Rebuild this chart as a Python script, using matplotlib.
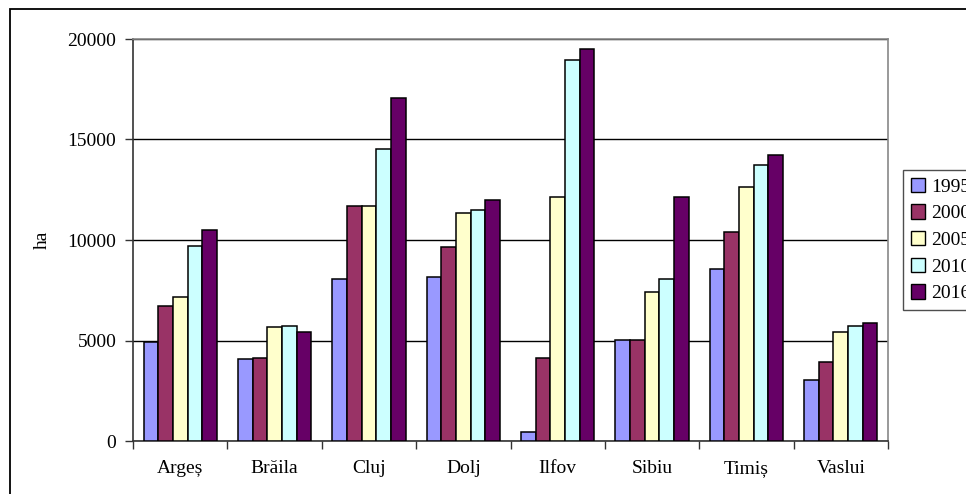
import matplotlib
matplotlib.use("Agg")
import matplotlib.pyplot as plt
from matplotlib.patches import Rectangle, Patch
import numpy as np

plt.rcParams['font.family'] = ['Liberation Serif', 'DejaVu Serif']

counties = ["Argeș", "Brăila", "Cluj", "Dolj", "Ilfov", "Sibiu", "Timiș", "Vaslui"]
years = ["1995", "2000", "2005", "2010", "2016"]

v1995 = [4950, 4080, 8060, 8160, 450, 5020, 8560, 3030]
v2000 = [6700, 4130, 11700, 9650, 4130, 5020, 10400, 3930]
v2005 = [7150, 5670, 11700, 11330, 12120, 7410, 12620, 5420]
v2010 = [9700, 5720, 14530, 11500, 18960, 8060, 13730, 5720]
v2016 = [10500, 5420, 17050, 12000, 19500, 12120, 14210, 5870]
series = [v1995, v2000, v2005, v2010, v2016]

colors = ["#9999FF", "#993366", "#FFFFCC", "#CCFFFF", "#660066"]
yticks = [0, 5000, 10000, 15000, 20000]

W, H = 966, 494
fig = plt.figure(figsize=(W / 100, H / 100), dpi=100)

# outer chart border
fig.patches.append(Rectangle((10 / W, -0.1), 1.2, (H - 9) / H + 0.1,
                             transform=fig.transFigure, fill=False,
                             edgecolor="black", linewidth=1.3))

ax = fig.add_axes([133 / W, (H - 441) / H, (888 - 133) / W, (441 - 39) / H])

n = len(counties)
x = np.arange(n)
bw = 0.155
for i, (vals, c) in enumerate(zip(series, colors)):
    ax.bar(x + (i - 2) * bw, vals, width=bw, color=c, edgecolor="black",
           linewidth=1.1, zorder=3, label=years[i])

ax.set_xlim(-0.5, n - 0.5)
ax.set_ylim(0, 20000)
ax.set_yticks(yticks)
ax.set_yticklabels([str(t) for t in yticks], fontsize=14)
ax.yaxis.grid(True, color="black", linewidth=1.0, zorder=0)

ax.set_xticks(x)
ax.set_xticklabels(counties, fontsize=14)
ax.set_xticks(np.arange(-0.5, n, 1.0), minor=True)
ax.tick_params(axis="x", which="major", length=0, pad=14)
ax.tick_params(axis="x", which="minor", length=6, width=1.0, direction="out", color="#333333")
ax.tick_params(axis="y", length=6, width=1.0, direction="out", pad=6, color="#333333")

for s in ["left", "bottom"]:
    ax.spines[s].set_color("#333333")
    ax.spines[s].set_linewidth(1.2)
for s in ["top", "right"]:
    ax.spines[s].set_color("#888888")
    ax.spines[s].set_linewidth(1.2)

fig.text(42 / W, 1 - 240 / H, "ha", rotation=90, fontsize=14, ha="center", va="center")

handles = [Patch(facecolor=c, edgecolor="black", linewidth=1.0) for c in colors]
leg = fig.legend(handles, years, loc="upper left",
                 bbox_to_anchor=(903 / W, 1 - 170 / H), fontsize=14,
                 frameon=True, fancybox=False, handlelength=0.75, handleheight=0.75,
                 handletextpad=0.3, labelspacing=0.45, borderpad=0.4, borderaxespad=0)
leg.get_frame().set_edgecolor("#222222")
leg.get_frame().set_linewidth(1.0)

fig.savefig("out.png", dpi=100)
